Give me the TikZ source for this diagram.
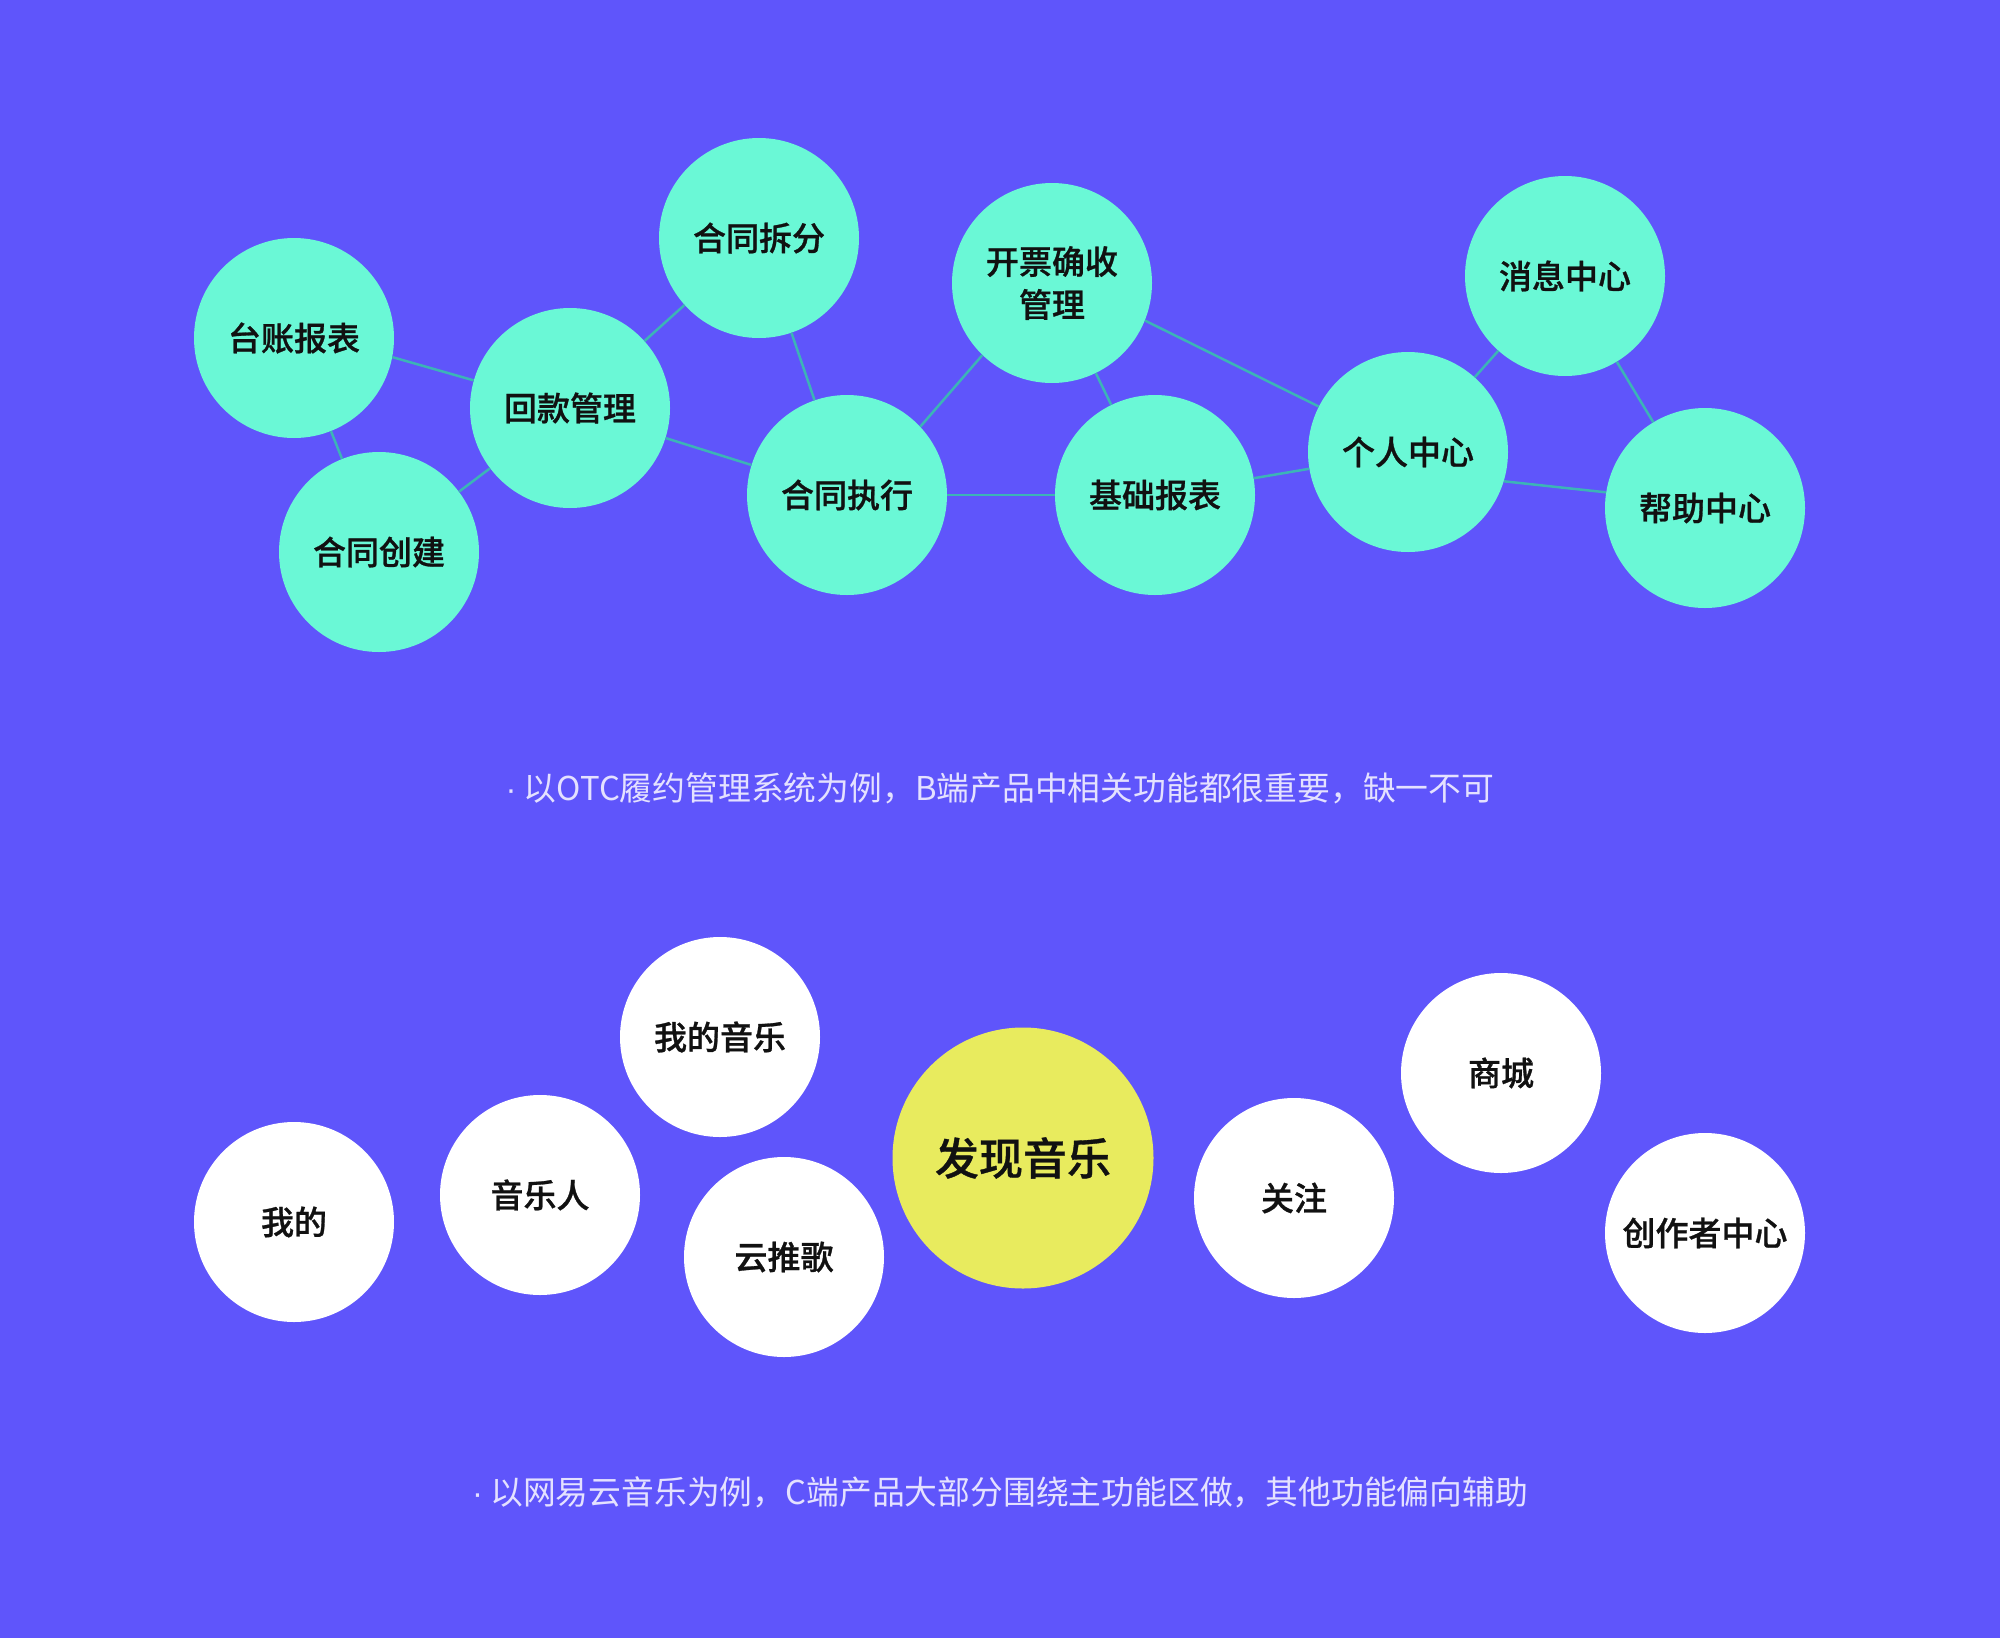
\documentclass[tikz,border=0pt]{standalone}
\usepackage{fontspec}
\setmainfont{Noto Sans CJK SC}
\newfontfamily\medfont{Noto Sans CJK SC Medium}[FakeBold=0.8]
\newfontfamily\dotfont{Liberation Sans}
\definecolor{bgc}{HTML}{5F55FB}
\definecolor{mint}{HTML}{6AF8D6}
\definecolor{edgec}{HTML}{3CB4B6}
\definecolor{ylw}{HTML}{E8EB5E}
\definecolor{capc}{HTML}{E4E1FF}
\definecolor{txt}{HTML}{111111}
\tikzset{
  bub/.style={circle, inner sep=0pt, minimum size=200pt, text=txt, align=center,
    font=\fontsize{33}{43}\selectfont\medfont},
  greenbub/.style={bub, fill=mint},
  whitebub/.style={bub, fill=white},
  mainbub/.style={bub, fill=ylw, minimum size=261pt, font=\fontsize{44}{52}\selectfont\medfont},
  link/.style={draw=edgec, line width=2.5pt},
  caption/.style={text=capc, font=\fontsize{32.8}{38}\selectfont, inner sep=0pt}
}
\begin{document}
\begin{tikzpicture}[x=1pt,y=-1pt]
\fill[bgc] (0,0) rectangle (2000,1638);
\useasboundingbox (0,0) rectangle (2000,1638);
% top graph
\node[greenbub] (tz) at (294,338) {台账报表};
\node[greenbub] (cj) at (379,552) {合同创建};
\node[greenbub] (hk) at (570,408) {回款管理};
\node[greenbub] (cf) at (759,238) {合同拆分};
\node[greenbub] (zx) at (847,495) {合同执行};
\node[greenbub] (kp) at (1052,283) {开票确收\\管理};
\node[greenbub] (jc) at (1155,495) {基础报表};
\node[greenbub] (gr) at (1408,452) {个人中心};
\node[greenbub] (xx) at (1565,276) {消息中心};
\node[greenbub] (bz) at (1705,508) {帮助中心};
\draw[link] (tz.-11) -- (hk.164);
\draw[link] (tz) -- (cj);
\draw[link] (cj) -- (hk);
\draw[link] (hk) -- (cf);
\draw[link] (hk) -- (zx);
\draw[link] (cf) -- (zx);
\draw[link] (zx.43.5) -- (kp.226.4);
\draw[link] (zx) -- (jc);
\draw[link] (kp) -- (jc);
\draw[link] (kp.-22.5) -- (gr.153.4);
\draw[link] (jc) -- (gr);
\draw[link] (gr) -- (xx);
\draw[link] (gr.-17) -- (bz.171.5);
\draw[link] (xx) -- (bz);
\node[caption] (cap1) at (1000,788) {{\dotfont ·} 以OTC履约管理系统为例，B端产品中相关功能都很重要，缺一不可};
% bottom bubbles
\node[whitebub] (wd) at (294,1222) {我的};
\node[whitebub] (yyr) at (540,1195) {音乐人};
\node[whitebub] (wdyy) at (720,1037) {我的音乐};
\node[whitebub] (ytg) at (784,1257) {云推歌};
\node[mainbub] (fx) at (1023,1158) {发现音乐};
\node[whitebub] (gz) at (1294,1198) {关注};
\node[whitebub] (sc) at (1501,1073) {商城};
\node[whitebub] (cz) at (1705,1233) {创作者中心};
\node[caption] (cap2) at (1000,1492) {{\dotfont ·} 以网易云音乐为例，C端产品大部分围绕主功能区做，其他功能偏向辅助};
\end{tikzpicture}
\end{document}
